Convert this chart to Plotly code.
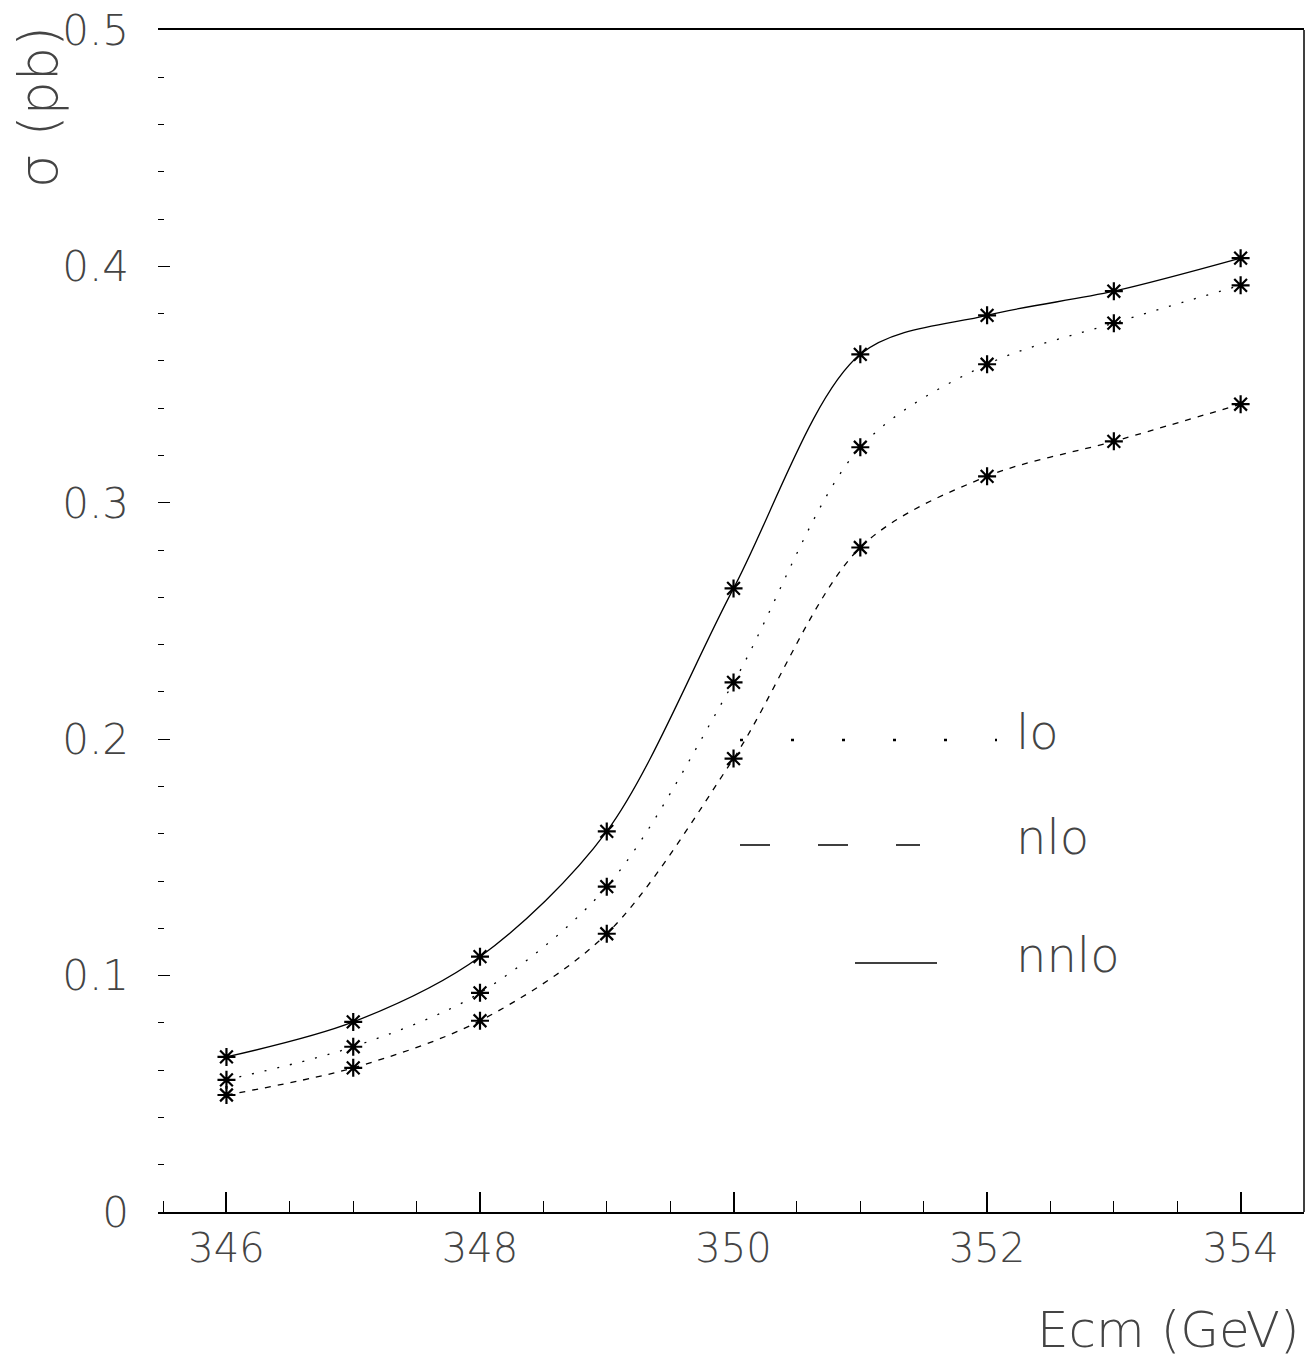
import plotly.graph_objects as go

# ---- data ----
ecm = [346, 347, 348, 349, 350, 351, 352, 353, 354]
sigma_lo = [0.0559, 0.0699, 0.0927, 0.1376, 0.2240, 0.3235, 0.3586, 0.3760, 0.3920]
sigma_nlo = [0.0495, 0.0610, 0.0809, 0.1177, 0.1918, 0.2811, 0.3112, 0.3260, 0.3417]
sigma_nnlo = [0.0656, 0.0804, 0.1080, 0.1610, 0.2638, 0.3628, 0.3793, 0.3895, 0.4035]

series_names = ["lo", "nlo", "nnlo"]
curve_dash = ["2px,11px", "6px,7px", "solid"]
legend_dash = ["3px,48px", "30px,48px", "solid"]

y_tickvals = [0, 0.1, 0.2, 0.3, 0.4, 0.5]
y_ticktext = ["0", "0.1", "0.2", "0.3", "0.4", "0.5"]
x_tickvals = [346, 348, 350, 352, 354]
x_ticktext = ["346", "348", "350", "352", "354"]

W, H = 1306, 1361
L, R, T, B = 158, 2, 30, 149
PW = W - L - R
PH = H - T - B

def px(x):
    return (x - L) / PW

def py(y):
    return (H - B - y) / PH

FONT = "DejaVu Sans"
TXT = "#444444"

fig = go.Figure()
for name, vals, dash in zip(series_names, [sigma_lo, sigma_nlo, sigma_nnlo], curve_dash):
    fig.add_trace(go.Scatter(
        x=ecm, y=vals, name=name, mode="lines+markers",
        line=dict(color="black", width=1.3, dash=dash, shape="spline", smoothing=0.9),
        marker=dict(symbol="asterisk-open", size=15, color="black",
                    line=dict(color="black", width=2.2)),
        showlegend=False,
    ))

fig.update_layout(
    width=W, height=H,
    margin=dict(l=L, r=R, t=T, b=B, pad=0, autoexpand=False),
    paper_bgcolor="white", plot_bgcolor="white",
    font=dict(family=FONT, color=TXT, size=40),
)

fig.update_xaxes(
    range=[345.46, 354.5], showgrid=False, zeroline=False, automargin=False,
    showline=True, mirror=True, linecolor="black", linewidth=1.5,
    ticks="inside", ticklen=20, tickwidth=1.5, tickcolor="black",
    tickvals=x_tickvals, ticktext=x_ticktext,
    tickfont=dict(family=FONT, size=40, color=TXT, weight=200),
    minor=dict(dtick=0.5, tick0=346, ticks="inside", ticklen=11,
               tickwidth=1.2, tickcolor="black", showgrid=False),
)
fig.update_yaxes(
    range=[0, 0.5], showgrid=False, zeroline=False, automargin=False,
    showline=False,
    ticks="inside", ticklen=12, tickwidth=1.2, tickcolor="black",
    tickvals=y_tickvals, ticktext=y_ticktext, ticklabelstandoff=28,
    tickfont=dict(family=FONT, size=42, color=TXT, weight=200),
    minor=dict(dtick=0.02, ticks="inside", ticklen=6,
               tickwidth=1, tickcolor="black", showgrid=False),
)

# right frame line
fig.add_shape(type="line", xref="paper", yref="paper", x0=1, x1=1, y0=0, y1=1,
              line=dict(color="black", width=1.5))

# axis titles
fig.add_annotation(text="σ (pb)", xref="paper", yref="paper",
                   x=px(38), y=py(24), xanchor="center", yanchor="top",
                   textangle=-90, showarrow=False,
                   font=dict(family=FONT, size=54, color=TXT, weight=200))
fig.add_annotation(text="Ecm (GeV)", xref="paper", yref="paper",
                   x=px(1302), y=py(1330), xanchor="right", yanchor="middle",
                   showarrow=False, font=dict(family=FONT, size=50, color=TXT, weight=200))

# legend (drawn inside plot)
leg_y = [740, 845, 963]
leg_x0 = [740, 740, 855]
leg_x1 = [997, 920, 937]
for name, dash, ly, x0, x1 in zip(series_names, legend_dash, leg_y, leg_x0, leg_x1):
    fig.add_shape(type="line", xref="paper", yref="paper",
                  x0=px(x0), x1=px(x1), y0=py(ly), y1=py(ly),
                  line=dict(color="black", width=2.5 if name == "lo" else 1.5, dash=dash))
    fig.add_annotation(text=name, xref="paper", yref="paper",
                       x=px(1014), y=py(ly - 8), xanchor="left", yanchor="middle",
                       showarrow=False, font=dict(family=FONT, size=48, color=TXT, weight=200))

fig.write_html(
    "out.html",
    config={"displayModeBar": False},
    post_script="document.body.style.margin='0';document.body.style.overflow='hidden';",
)
